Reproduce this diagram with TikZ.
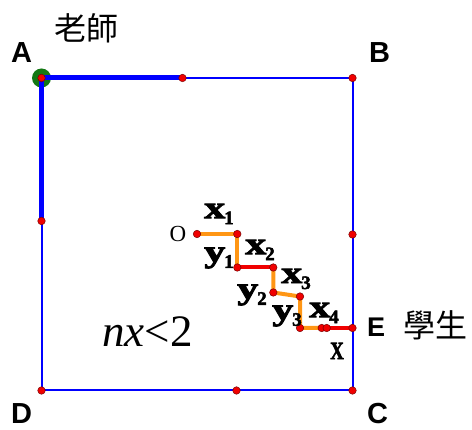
\documentclass[tikz,border=0pt]{standalone}
\usepackage{fontspec}
\setmainfont{Liberation Serif}
\newfontfamily\lsans{Liberation Sans}
\newfontfamily\heavy[UprightFont={* Bold}, FakeBold=2.5]{Liberation Serif}
\newfontfamily\cjk{Noto Sans CJK TC}
\definecolor{sqblue}{RGB}{0,0,255}
\definecolor{dotred}{RGB}{240,0,0}
\definecolor{dotedge}{RGB}{120,0,0}
\definecolor{segorange}{RGB}{255,150,20}
\definecolor{segred}{RGB}{240,0,0}
\definecolor{agreen}{RGB}{20,120,20}
\newcommand{\steplab}[2]{\scalebox{1.35}[1]{\heavy\fontsize{31}{32}\selectfont #1}\kern-1pt\raisebox{-6pt}{\heavy\fontsize{19}{20}\selectfont #2}}
\tikzset{
  dot/.style={circle, fill=dotred, draw=dotedge, line width=0.5pt, minimum size=7.5pt, inner sep=0pt},
  side/.style={draw=sqblue, line width=2pt},
  thickside/.style={draw=sqblue, line width=5pt},
  oseg/.style={draw=segorange, line width=4pt},
  rseg/.style={draw=segred, line width=4pt},
  vlabel/.style={inner sep=0pt, font=\lsans\bfseries\fontsize{29}{30}\selectfont, anchor=base west},
  steplabel/.style={inner sep=0pt},
}
\begin{document}
\begin{tikzpicture}[x=1pt, y=-1pt]
\useasboundingbox (0,0) rectangle (472,430);
% corner and side points
\coordinate (A) at (41.5,78);
\coordinate (B) at (352.5,78);
\coordinate (C) at (352.5,390.5);
\coordinate (D) at (41.5,390.5);
\coordinate (Mt) at (182.5,78);
\coordinate (Ml) at (41.5,221);
\coordinate (Mr) at (352.5,234.5);
\coordinate (Mb) at (236.5,390.5);
\coordinate (E) at (352.5,328);
% staircase points
\coordinate (p0) at (197,234);
\coordinate (p1) at (237.3,234);
\coordinate (p2) at (237.3,267.5);
\coordinate (p3) at (273.3,267.5);
\coordinate (p4) at (273.3,292.5);
\coordinate (p5) at (300,296.5);
\coordinate (p6) at (300,328);
\coordinate (p7) at (321.7,328);
\coordinate (p8) at (326.7,328);
% square
\draw[side] (A) -- (B) -- (C) -- (D) -- cycle;
\fill[agreen] (A) circle (9.5pt);
\draw[thickside, line cap=rect] (Mt) -- (A) -- (Ml);
% staircase
\draw[oseg] (p0) -- (p1) -- (p2);
\draw[rseg] (p2) -- (p3);
\draw[oseg] (p3) -- (p4) -- (p5) -- (p6) -- (p7);
\draw[rseg] (p7) -- (p8) -- (E);
% dots
\foreach \p in {A,B,C,D,Mt,Ml,Mr,Mb,E,p0,p1,p2,p3,p4,p5,p6,p7,p8}
  \node[dot] (d\p) at (\p) {};
% vertex labels
\node[vlabel] (lA) at (11,63) {A};
\node[vlabel] (lB) at (369,63) {B};
\node[vlabel] (lC) at (367,424) {C};
\node[vlabel] (lD) at (11,424) {D};
\node[vlabel, font=\lsans\bfseries\fontsize{27}{30}\selectfont] (lE) at (367,337) {E};
% chinese labels
\node[inner sep=0pt, font=\cjk\fontsize{32}{34}\selectfont] (teacher) at (86,28) {老師};
\node[inner sep=0pt, font=\cjk\fontsize{32}{34}\selectfont] (student) at (435,325) {學生};
% O and inequality
\node[inner sep=0pt, font=\fontsize{23}{24}\selectfont] (O) at (178,234.5) {O};
\node[inner sep=0pt, anchor=base west, font=\fontsize{45}{48}\selectfont] (ineq) at (102,347) {\textit{nx}<2};
% step labels
\node[steplabel] (x1) at (219,214) {\steplab{x}{1}};
\node[steplabel] (y1) at (219,258) {\steplab{y}{1}};
\node[steplabel] (x2) at (260,250) {\steplab{x}{2}};
\node[steplabel] (y2) at (252,295) {\steplab{y}{2}};
\node[steplabel] (x3) at (296,279) {\steplab{x}{3}};
\node[steplabel] (y3) at (287,316) {\steplab{y}{3}};
\node[steplabel] (x4) at (324,313) {\steplab{x}{4}};
\node[steplabel] (X) at (337,351) {\scalebox{0.75}[1]{\heavy\fontsize{25}{26}\selectfont X}};
\end{tikzpicture}
\end{document}
